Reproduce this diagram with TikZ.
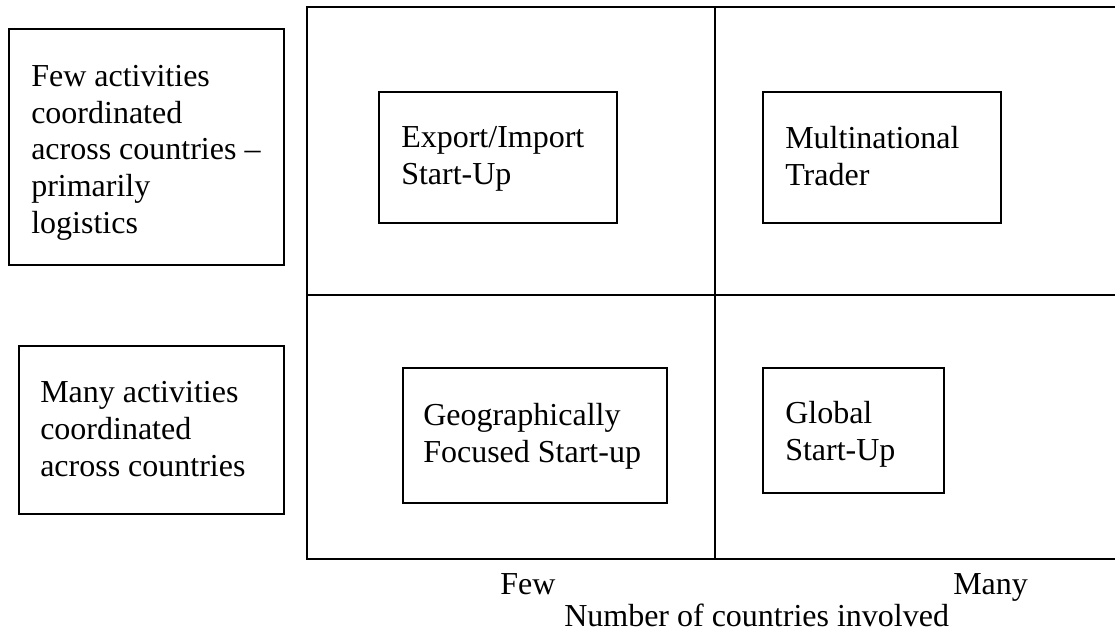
\documentclass[tikz,border=0pt]{standalone}
\usepackage{fontspec}
\setmainfont{Liberation Serif}
\usetikzlibrary{fit}
\begin{document}
\begin{tikzpicture}[x=0.75pt,y=-0.75pt,
  box/.style={draw=black,line width=1.5pt,inner sep=0pt},
  lbl/.style={anchor=base west,inner sep=0pt,align=left,font=\fontsize{24pt}{27.4pt}\selectfont},
  grid/.style={draw=black,line width=1.5pt}]
\useasboundingbox (0,0) rectangle (1115,632);
\clip (0,0) rectangle (1115,632);
% quadrant grid
\node[box,fit={(307,7) (1125,559)}] (grid) {};
\coordinate (vtop) at (715,7);
\coordinate (vbot) at (715,559);
\coordinate (hl) at (307,295);
\coordinate (hr) at (1125,295);
\draw[grid] (vtop) -- (vbot);
\draw[grid] (hl) -- (hr);
% left boxes (text anchored at the baseline of its last line)
\node[box,fit={(9,29) (284,265)}] (fewbox) {};
\node[lbl] (fewtxt) at (31,233) {Few activities\\coordinated\\across countries –\\primarily\\logistics};
\node[box,fit={(19,346) (284,514)}] (manybox) {};
\node[lbl] (manytxt) at (40,476) {Many activities\\coordinated\\across countries};
% quadrant boxes
\node[box,fit={(379,92) (617,223)}] (exbox) {};
\node[lbl] (extxt) at (401,184.5) {Export/Import\\Start-Up};
\node[box,fit={(763,92) (1001,223)}] (mnbox) {};
\node[lbl] (mntxt) at (785,185.5) {Multinational\\Trader};
\node[box,fit={(403,368) (667,503)}] (geobox) {};
\node[lbl] (geotxt) at (423,462.5) {Geographically\\Focused Start-up};
\node[box,fit={(763,368) (944,493)}] (glbox) {};
\node[lbl] (gltxt) at (785,460.5) {Global\\Start-Up};
% axis labels
\node[lbl] (few) at (500,594) {Few};
\node[lbl] (many) at (953,594) {Many};
\node[lbl] (axis) at (564,626) {Number of countries involved};
\end{tikzpicture}
\end{document}
